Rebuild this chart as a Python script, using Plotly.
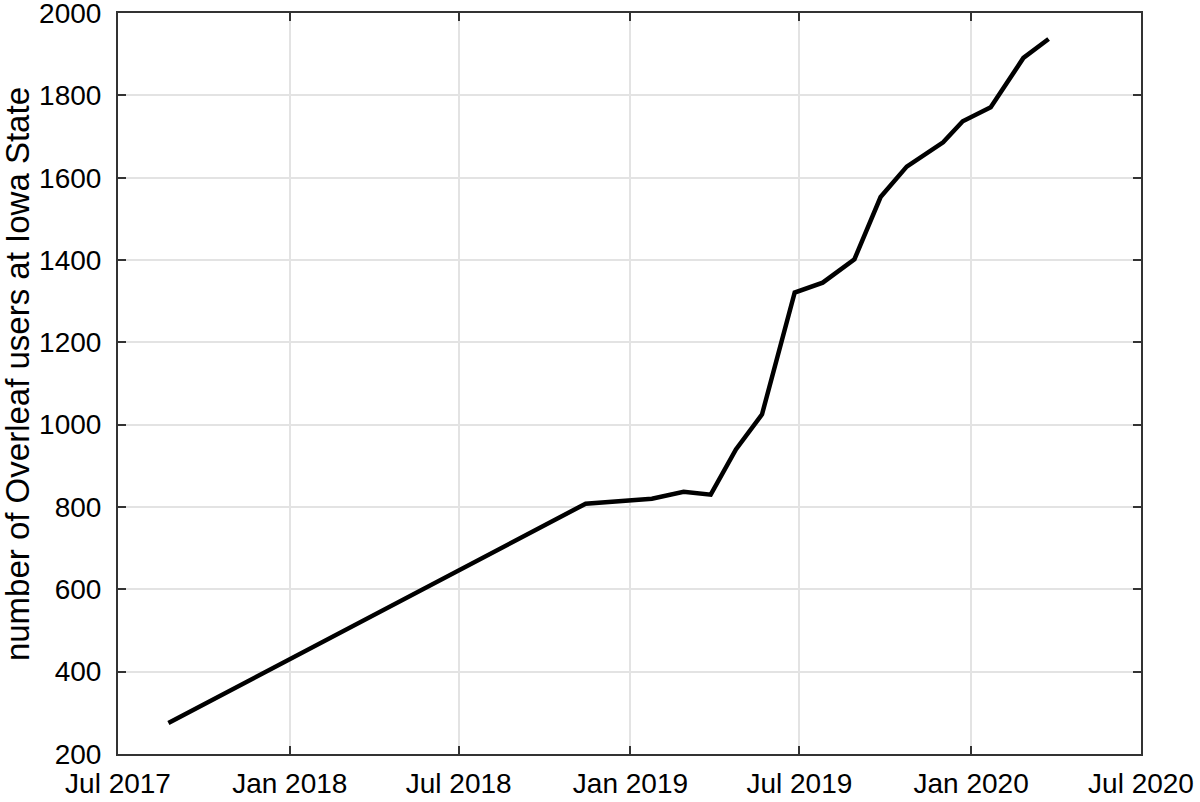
import plotly.graph_objects as go

# Overleaf users at Iowa State over time
dates = ["2017-08-24", "2018-11-14", "2019-01-24", "2019-02-27", "2019-03-28",
         "2019-04-24", "2019-05-22", "2019-06-26", "2019-07-26", "2019-08-29",
         "2019-09-26", "2019-10-24", "2019-12-02", "2019-12-23", "2020-01-22",
         "2020-02-26", "2020-03-24"]
users = [275, 808, 820, 837, 830,
         940, 1025, 1321, 1345, 1402,
         1553, 1627, 1686, 1737, 1771,
         1891, 1937]
y_ticks = [200, 400, 600, 800, 1000, 1200, 1400, 1600, 1800, 2000]
y_title = "number of Overleaf users at Iowa State"

trace = go.Scatter(x=dates, y=users, mode="lines",
                   line=dict(color="black", width=4.5))

fig = go.Figure(data=[trace])
fig.update_layout(
    width=1200, height=802,
    paper_bgcolor="white", plot_bgcolor="white",
    margin=dict(l=118, r=59, t=13, b=48),
    font=dict(family="Liberation Sans, Arial, sans-serif", size=28, color="black"),
    showlegend=False,
)
# y title as an annotation: it sits a little above the plot's middle
fig.add_annotation(
    text=y_title, textangle=-90, showarrow=False,
    xref="paper", yref="paper", x=-0.0975, y=0.513,
    xanchor="center", yanchor="middle",
    font=dict(size=33),
)
fig.update_xaxes(
    type="date", range=["2017-07-01", "2020-07-01"],
    tick0="2017-07-01", dtick="M6", tickformat="%b %Y",
    ticks="inside", ticklen=8, tickwidth=2, tickcolor="#333",
    showline=True, linecolor="#333", linewidth=2, mirror="ticks",
    showgrid=True, gridcolor="#e3e3e3", gridwidth=1.5,
    zeroline=False, ticklabelstandoff=3, automargin=False,
    ticklabeloverflow="allow",
)
fig.update_yaxes(
    range=[199.9, 2000.1], tickvals=y_ticks,
    ticks="inside", ticklen=8, tickwidth=2, tickcolor="#333",
    showline=True, linecolor="#333", linewidth=2, mirror="ticks",
    showgrid=True, gridcolor="#e3e3e3", gridwidth=1.5,
    zeroline=False, ticklabelstandoff=9, automargin=False,
    ticklabeloverflow="allow",
)

# drop the page's default body margin so the figure fills the window
fig.write_html("out.html", config={"displayModeBar": False},
               post_script="document.body.style.margin='0';")
